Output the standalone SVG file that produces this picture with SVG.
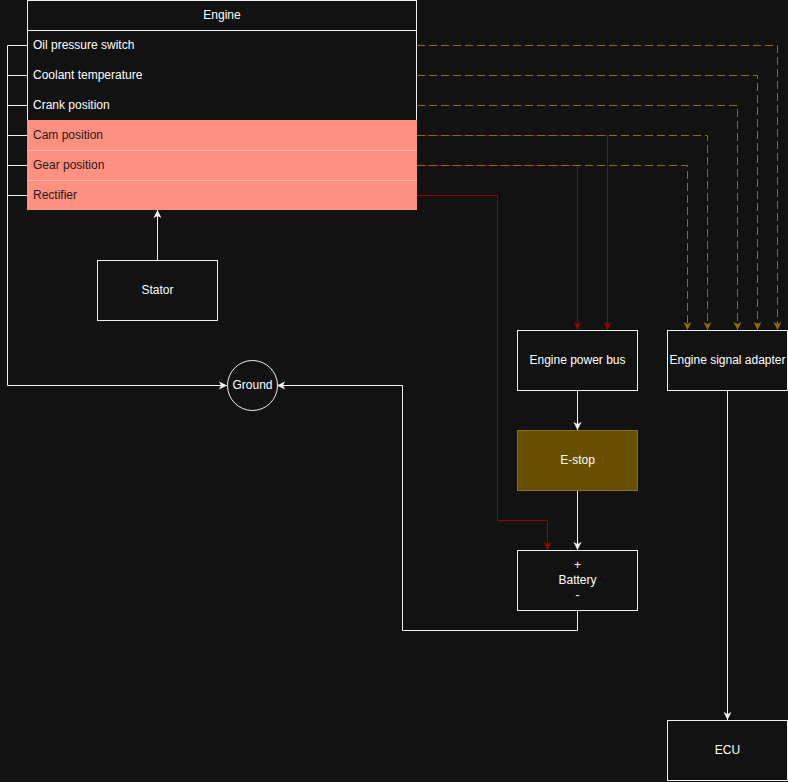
<svg xmlns="http://www.w3.org/2000/svg" width="788" height="782" viewBox="0 0 788 782">
<defs>
<style>
.bg{fill:#121212}
.box{fill:#121212;stroke:#f0f0f0;stroke-width:1}
.t{font-family:"Liberation Sans",Arial,sans-serif;font-size:12px;fill:#ffffff}
.c{text-anchor:middle;dominant-baseline:central}
.l{dominant-baseline:central}
.dark{fill:#1a1a1a}
.w{fill:none;stroke:#f0f0f0;stroke-width:1}
.r{fill:none;stroke:#990000;stroke-width:1}
.y{fill:none;stroke:#8c7000;stroke-width:1;stroke-dasharray:8 4}
</style>
<marker id="aw" markerUnits="userSpaceOnUse" markerWidth="10" markerHeight="10" refX="9" refY="5" orient="auto"><path d="M1,1 L9,5 L1,9 L3,5 Z" fill="#f0f0f0"/></marker>
<marker id="ar" markerUnits="userSpaceOnUse" markerWidth="10" markerHeight="10" refX="9" refY="5" orient="auto"><path d="M1,1 L9,5 L1,9 L3,5 Z" fill="#990000"/></marker>
<marker id="ay" markerUnits="userSpaceOnUse" markerWidth="10" markerHeight="10" refX="9" refY="5" orient="auto"><path d="M1,1 L9,5 L1,9 L3,5 Z" fill="#8c7000"/></marker>
</defs>
<rect class="bg" x="0" y="0" width="788" height="782"/>

<g id="connectors">
<path class="w" d="M27,45.5 H7.5 V385.5 H227" marker-end="url(#aw)"/>
<path class="w" d="M27,75.5 H7.5"/>
<path class="w" d="M27,105.5 H7.5"/>
<path class="w" d="M27,135.5 H7.5"/>
<path class="w" d="M27,165.5 H7.5"/>
<path class="w" d="M27,195.5 H7.5"/>
<path class="w" d="M157.5,260 V210" marker-end="url(#aw)"/>
<path class="r" d="M417,135.5 H607.5 V330" marker-end="url(#ar)"/>
<path class="r" d="M417,165.5 H577.5 V330" marker-end="url(#ar)"/>
<path class="r" d="M417,195.5 H497.5 V520.5 H547.5 V550" marker-end="url(#ar)"/>
<path class="y" d="M417,45.5 H777.5 V330" marker-end="url(#ay)"/>
<path class="y" d="M417,75.5 H757.5 V330" marker-end="url(#ay)"/>
<path class="y" d="M417,105.5 H737.5 V330" marker-end="url(#ay)"/>
<path class="y" d="M417,135.5 H707.5 V330" marker-end="url(#ay)"/>
<path class="y" d="M417,165.5 H687.5 V330" marker-end="url(#ay)"/>
<path class="w" d="M577.5,390 V430" marker-end="url(#aw)"/>
<path class="w" d="M577.5,490 V550" marker-end="url(#aw)"/>
<path class="w" d="M577.5,610 V630.5 H402.5 V385.5 H277" marker-end="url(#aw)"/>
<path class="w" d="M727.5,390 V720" marker-end="url(#aw)"/>
</g>

<g id="engine">
<rect class="box" x="27.5" y="0.5" width="389" height="209"/>
<line x1="27.5" y1="30.5" x2="416.5" y2="30.5" stroke="#f0f0f0"/>
<rect x="27" y="120" width="390" height="90" fill="#ff9180"/>
<line x1="27" y1="150.5" x2="417" y2="150.5" stroke="#ffb4aa"/>
<line x1="27" y1="180.5" x2="417" y2="180.5" stroke="#ffb4aa"/>
<text class="t c" x="222" y="15">Engine</text>
<text class="t l" x="33" y="45">Oil pressure switch</text>
<text class="t l" x="33" y="75">Coolant temperature</text>
<text class="t l" x="33" y="105">Crank position</text>
<text class="t l dark" x="33" y="135">Cam position</text>
<text class="t l dark" x="33" y="165">Gear position</text>
<text class="t l dark" x="33" y="195">Rectifier</text>
</g>

<g id="stator">
<rect class="box" x="97.5" y="260.5" width="120" height="60"/>
<text class="t c" x="157.5" y="290">Stator</text>
</g>

<g id="ground">
<circle class="box" cx="252.5" cy="385.5" r="25"/>
<text class="t c" x="252.5" y="385">Ground</text>
</g>

<g id="engine-power-bus">
<rect class="box" x="517.5" y="330.5" width="120" height="60"/>
<text class="t c" x="577.5" y="360">Engine power bus</text>
</g>

<g id="engine-signal-adapter">
<rect class="box" x="667.5" y="330.5" width="120" height="60"/>
<text class="t c" x="727.5" y="360">Engine signal adapter</text>
</g>

<g id="e-stop">
<rect x="517.5" y="430.5" width="120" height="60" fill="#665000" stroke="#8c7000"/>
<text class="t c" x="577.5" y="460">E-stop</text>
</g>

<g id="battery">
<rect class="box" x="517.5" y="550.5" width="120" height="60"/>
<text class="t c" x="577.5" y="565">+</text>
<text class="t c" x="577.5" y="580">Battery</text>
<text class="t c" x="577.5" y="595">-</text>
</g>

<g id="ecu">
<rect class="box" x="667.5" y="720.5" width="120" height="60"/>
<text class="t c" x="727.5" y="750">ECU</text>
</g>
</svg>
